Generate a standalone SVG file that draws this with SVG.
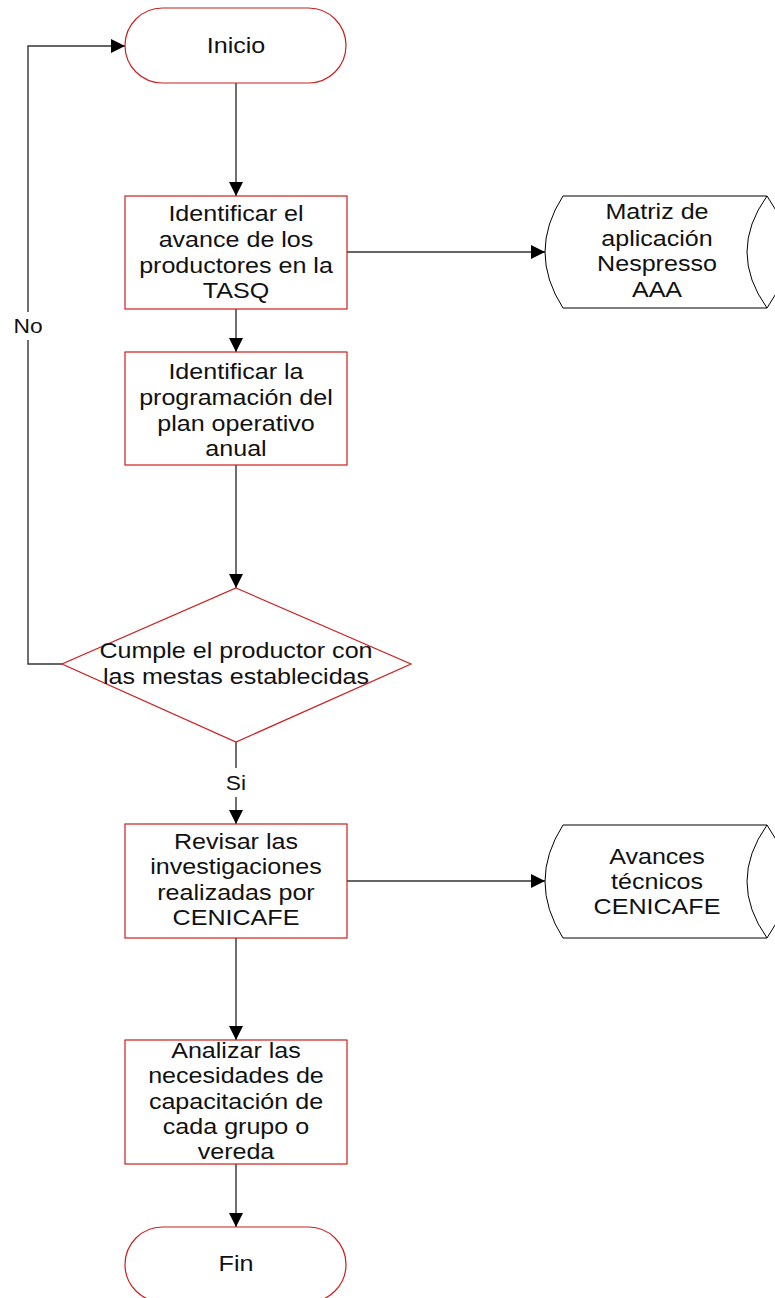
<svg xmlns="http://www.w3.org/2000/svg" width="775" height="1298" viewBox="0 0 775 1298">
  <style>
    .shape { fill: #ffffff; stroke: #cc1f1f; stroke-width: 1.2; }
    .store { fill: #ffffff; stroke: #000000; stroke-width: 1; }
    .line { fill: none; stroke: #333333; stroke-width: 1.4; }
    .t { font-family: "Liberation Sans", Arial, sans-serif; font-size: 22px; fill: #111111; text-anchor: middle; }
  </style>
  <defs>
    <marker id="arrow" viewBox="0 0 14 14" refX="14" refY="7" markerWidth="14" markerHeight="14" markerUnits="userSpaceOnUse" orient="auto">
      <path d="M0,0 L14,7 L0,14 Z" fill="#000000"/>
    </marker>
  </defs>
  <rect width="775" height="1298" fill="#ffffff"/>

  <g id="connectors">
    <line class="line" x1="236" y1="83" x2="236" y2="196" marker-end="url(#arrow)"/>
    <line class="line" x1="236" y1="309" x2="236" y2="352" marker-end="url(#arrow)"/>
    <line class="line" x1="347" y1="252" x2="545" y2="252" marker-end="url(#arrow)"/>
    <line class="line" x1="236" y1="465" x2="236" y2="588" marker-end="url(#arrow)"/>
    <polyline class="line" points="62,664 28,664 28,340"/>
    <polyline class="line" points="28,312 28,46 125,46" marker-end="url(#arrow)"/>
    <!-- labels are widened horizontally around their centre line -->
    <g transform="matrix(1.14,0,0,1,-3.92,0)">
      <text class="t" x="28" y="333" style="font-size:20px">No</text>
    </g>
    <line class="line" x1="236" y1="742" x2="236" y2="768"/>
    <line class="line" x1="236" y1="797" x2="236" y2="824" marker-end="url(#arrow)"/>
    <g transform="matrix(1.14,0,0,1,-33.04,0)">
      <text class="t" x="236" y="790" style="font-size:20px">Si</text>
    </g>
    <line class="line" x1="347" y1="881" x2="545" y2="881" marker-end="url(#arrow)"/>
    <line class="line" x1="236" y1="938" x2="236" y2="1040" marker-end="url(#arrow)"/>
    <line class="line" x1="236" y1="1164" x2="236" y2="1227" marker-end="url(#arrow)"/>
  </g>

  <g id="inicio">
    <rect class="shape" x="125" y="8" width="221" height="75" rx="37.5" ry="37.5"/>
    <g transform="matrix(1.14,0,0,1,-33.04,0)">
      <text class="t" x="236" y="53">Inicio</text>
    </g>
  </g>

  <g id="identificar-avance">
    <rect class="shape" x="125" y="196" width="222" height="113"/>
    <g transform="matrix(1.14,0,0,1,-33.04,0)">
      <text class="t" x="236" y="221">Identificar el</text>
      <text class="t" x="236" y="247">avance de los</text>
      <text class="t" x="236" y="273">productores en la</text>
      <text class="t" x="236" y="298">TASQ</text>
    </g>
  </g>

  <g id="matriz">
    <path class="store" d="M563,196 L767,196 M563,308 L767,308 M563,196 Q527,252 563,308 M767,196 Q727,252 767,308 M767,196 Q807,252 767,308"/>
    <g transform="matrix(1.14,0,0,1,-91.98,0)">
      <text class="t" x="657" y="219">Matriz de</text>
      <text class="t" x="657" y="246">aplicación</text>
      <text class="t" x="657" y="271">Nespresso</text>
      <text class="t" x="657" y="297">AAA</text>
    </g>
  </g>

  <g id="identificar-programacion">
    <rect class="shape" x="125" y="352" width="222" height="113"/>
    <g transform="matrix(1.14,0,0,1,-33.04,0)">
      <text class="t" x="236" y="379">Identificar la</text>
      <text class="t" x="236" y="405">programación del</text>
      <text class="t" x="236" y="431">plan operativo</text>
      <text class="t" x="236" y="456">anual</text>
    </g>
  </g>

  <g id="decision">
    <polygon class="shape" points="236,588 411,664 236,742 62,664"/>
    <g transform="matrix(1.14,0,0,1,-33.04,0)">
      <text class="t" x="236" y="658">Cumple el productor con</text>
      <text class="t" x="236" y="684">las mestas establecidas</text>
    </g>
  </g>

  <g id="revisar">
    <rect class="shape" x="125" y="824" width="222" height="114"/>
    <g transform="matrix(1.14,0,0,1,-33.04,0)">
      <text class="t" x="236" y="849">Revisar las</text>
      <text class="t" x="236" y="874">investigaciones</text>
      <text class="t" x="236" y="900">realizadas por</text>
      <text class="t" x="236" y="925">CENICAFE</text>
    </g>
  </g>

  <g id="avances">
    <path class="store" d="M563,825 L767,825 M563,938 L767,938 M563,825 Q527,881.5 563,938 M767,825 Q727,881.5 767,938 M767,825 Q807,881.5 767,938"/>
    <g transform="matrix(1.14,0,0,1,-91.98,0)">
      <text class="t" x="657" y="864">Avances</text>
      <text class="t" x="657" y="889">técnicos</text>
      <text class="t" x="657" y="914">CENICAFE</text>
    </g>
  </g>

  <g id="analizar">
    <rect class="shape" x="125" y="1040" width="222" height="124"/>
    <g transform="matrix(1.14,0,0,1,-33.04,0)">
      <text class="t" x="236" y="1058">Analizar las</text>
      <text class="t" x="236" y="1083">necesidades de</text>
      <text class="t" x="236" y="1109">capacitación de</text>
      <text class="t" x="236" y="1134">cada grupo o</text>
      <text class="t" x="236" y="1159">vereda</text>
    </g>
  </g>

  <g id="fin">
    <rect class="shape" x="125" y="1227" width="221" height="75" rx="37.5" ry="37.5"/>
    <g transform="matrix(1.14,0,0,1,-33.04,0)">
      <text class="t" x="236" y="1271">Fin</text>
    </g>
  </g>
</svg>
